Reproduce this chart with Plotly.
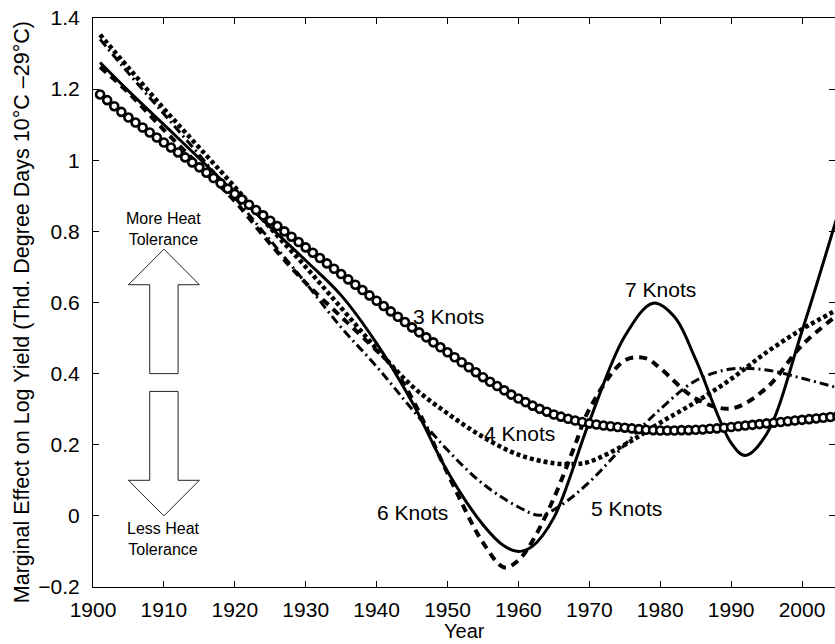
import plotly.graph_objects as go

# ---- data -------------------------------------------------------------
# 3 knots: fitted effect for every year (drawn with open circles)
years3 = list(range(1901, 2006))
knots3 = [
    1.185, 1.169, 1.152, 1.136, 1.120, 1.106, 1.092, 1.078, 1.064, 1.050,
    1.036, 1.022, 1.008, 0.994, 0.980, 0.965, 0.950, 0.935, 0.920, 0.905,
    0.890, 0.875, 0.860, 0.845, 0.830, 0.815, 0.800, 0.785, 0.770, 0.755,
    0.740, 0.725, 0.710, 0.695, 0.680, 0.665, 0.650, 0.635, 0.620, 0.605,
    0.590, 0.575, 0.560, 0.545, 0.530, 0.516, 0.502, 0.488, 0.474, 0.460,
    0.446, 0.432, 0.418, 0.404, 0.390, 0.377, 0.365, 0.353, 0.341, 0.330,
    0.320, 0.310, 0.301, 0.293, 0.285, 0.279, 0.273, 0.268, 0.264, 0.260,
    0.257, 0.254, 0.252, 0.250, 0.248, 0.246, 0.244, 0.242, 0.241, 0.240,
    0.240, 0.240, 0.241, 0.241, 0.242, 0.243, 0.245, 0.246, 0.248, 0.250,
    0.252, 0.254, 0.256, 0.258, 0.260, 0.262, 0.264, 0.266, 0.268, 0.270,
    0.272, 0.274, 0.276, 0.278, 0.280,
]

years4 = [1901, 1905, 1910, 1915, 1920, 1925, 1930, 1935, 1940, 1945, 1950, 1955,
          1960, 1965, 1968, 1970, 1975, 1980, 1985, 1990, 1995, 2000, 2005]
knots4 = [1.353, 1.26, 1.145, 1.035, 0.925, 0.81, 0.70, 0.585, 0.47, 0.365, 0.288, 0.222,
          0.172, 0.148, 0.146, 0.152, 0.20, 0.262, 0.32, 0.385, 0.46, 0.525, 0.58]

years5 = [1901, 1905, 1910, 1915, 1920, 1925, 1930, 1935, 1940, 1945, 1950, 1955,
          1960, 1963, 1966, 1970, 1975, 1980, 1985, 1990, 1995, 2000, 2005]
knots5 = [1.34, 1.245, 1.13, 1.015, 0.895, 0.775, 0.655, 0.53, 0.42, 0.30, 0.185, 0.09,
          0.025, 0.002, 0.03, 0.095, 0.20, 0.30, 0.38, 0.413, 0.41, 0.387, 0.36]

years6 = [1901, 1905, 1910, 1915, 1920, 1925, 1930, 1935, 1940, 1942, 1945, 1950, 1955,
          1958, 1960, 1962, 1965, 1968, 1970, 1975, 1978, 1980, 1985, 1990, 1995, 2000, 2005]
knots6 = [1.262, 1.19, 1.085, 0.985, 0.885, 0.765, 0.655, 0.56, 0.465, 0.425, 0.33, 0.12, -0.075,
          -0.145, -0.125, -0.07, 0.05, 0.20, 0.30, 0.437, 0.443, 0.415, 0.33, 0.302, 0.36, 0.48, 0.565]

years7 = [1901, 1905, 1910, 1915, 1920, 1925, 1930, 1935, 1940, 1945, 1950, 1955, 1958,
          1960, 1962, 1965, 1970, 1975, 1979, 1982, 1985, 1990, 1992, 1995, 2000, 2005]
knots7 = [1.275, 1.195, 1.10, 1.005, 0.908, 0.812, 0.718, 0.62, 0.485, 0.32, 0.125, -0.025, -0.085,
          -0.10, -0.085, -0.005, 0.265, 0.505, 0.598, 0.56, 0.44, 0.205, 0.17, 0.23, 0.52, 0.845]

x_ticks = [1900, 1910, 1920, 1930, 1940, 1950, 1960, 1970, 1980, 1990, 2000]
x_tick_labels = [str(v) for v in x_ticks]
y_ticks = [-0.2, 0, 0.2, 0.4, 0.6, 0.8, 1.0, 1.2, 1.4]
y_tick_labels = ["\u22120.2", "0", "0.2", "0.4", "0.6", "0.8", "1", "1.2", "1.4"]

# curve labels: (text, year, value)
curve_labels = [
    ("3 Knots", 1950.1, 0.562),
    ("4 Knots", 1960.2, 0.232),
    ("5 Knots", 1975.2, 0.022),
    ("6 Knots", 1945.0, 0.010),
    ("7 Knots", 1980.1, 0.636),
]

FONT = "Liberation Sans, Arial, Helvetica, sans-serif"
INK = "black"

fig = go.Figure()

fig.add_trace(go.Scatter(
    x=years5, y=knots5, mode="lines",
    line=dict(color=INK, width=3, dash="9px,4px,2px,4px", shape="spline"),
))
fig.add_trace(go.Scatter(
    x=years6, y=knots6, mode="lines",
    line=dict(color=INK, width=4, dash="8px,6px", shape="spline"),
))
fig.add_trace(go.Scatter(
    x=years4, y=knots4, mode="lines",
    line=dict(color=INK, width=4.5, dash="4px,3px", shape="spline"),
))
fig.add_trace(go.Scatter(
    x=years7, y=knots7, mode="lines",
    line=dict(color=INK, width=3, shape="spline"),
))
fig.add_trace(go.Scatter(
    x=years3, y=knots3, mode="lines+markers",
    line=dict(color=INK, width=2),
    marker=dict(symbol="circle", size=8, color="white", line=dict(color=INK, width=2.6)),
))

for text, yr, val in curve_labels:
    fig.add_annotation(x=yr, y=val, text=text, showarrow=False,
                       font=dict(family=FONT, size=21, color=INK),
                       xanchor="center", yanchor="middle")

# heat-tolerance arrows (outlined block arrows)
up_arrow = "M 1908,0.40 L 1908,0.65 L 1905,0.65 L 1910,0.75 L 1915,0.65 L 1912,0.65 L 1912,0.40 Z"
down_arrow = "M 1908,0.35 L 1908,0.10 L 1905,0.10 L 1910,0.0 L 1915,0.10 L 1912,0.10 L 1912,0.35 Z"
for p in (up_arrow, down_arrow):
    fig.add_shape(type="path", path=p, xref="x", yref="y",
                  line=dict(color="#222222", width=1), fillcolor="white", layer="above")

arrow_text = [
    ("More Heat<br>Tolerance", 0.806),
    ("Less Heat<br>Tolerance", -0.066),
]
for text, val in arrow_text:
    fig.add_annotation(x=1910, y=val, text=text, showarrow=False,
                       font=dict(family=FONT, size=16, color=INK),
                       xanchor="center", yanchor="middle")

# axis titles
fig.add_annotation(text="Year", xref="paper", yref="paper", x=0.5, y=-0.1002,
                   xanchor="center", yanchor="bottom", showarrow=False,
                   font=dict(family=FONT, size=20, color=INK))
fig.add_annotation(text="Marginal Effect on Log Yield (Thd. Degree Days 10\u00b0C \u201329\u00b0C)",
                   xref="paper", yref="paper", x=-0.0957, y=0.483, textangle=-90,
                   xanchor="center", yanchor="middle", showarrow=False,
                   font=dict(family=FONT, size=21.5, color=INK))

axis_common = dict(
    showgrid=False, zeroline=False, showline=True, linecolor=INK, linewidth=1,
    mirror="ticks", ticks="inside", ticklen=6, tickwidth=1, tickcolor=INK,
    tickfont=dict(family=FONT, size=21, color=INK),
)

fig.update_xaxes(range=[1900, 2004.65], tickmode="array", tickvals=x_ticks,
                 ticktext=x_tick_labels, ticklabelstandoff=4, **axis_common)
fig.update_yaxes(range=[-0.2, 1.4], tickmode="array", tickvals=y_ticks,
                 ticktext=y_tick_labels, ticklabelstandoff=8, **axis_common)

fig.update_layout(
    width=835, height=644,
    margin=dict(l=93, r=0, t=18, b=57, autoexpand=False),
    plot_bgcolor="white", paper_bgcolor="white",
    showlegend=False,
    font=dict(family=FONT, size=21, color=INK),
)

fig.write_html("out.html")
